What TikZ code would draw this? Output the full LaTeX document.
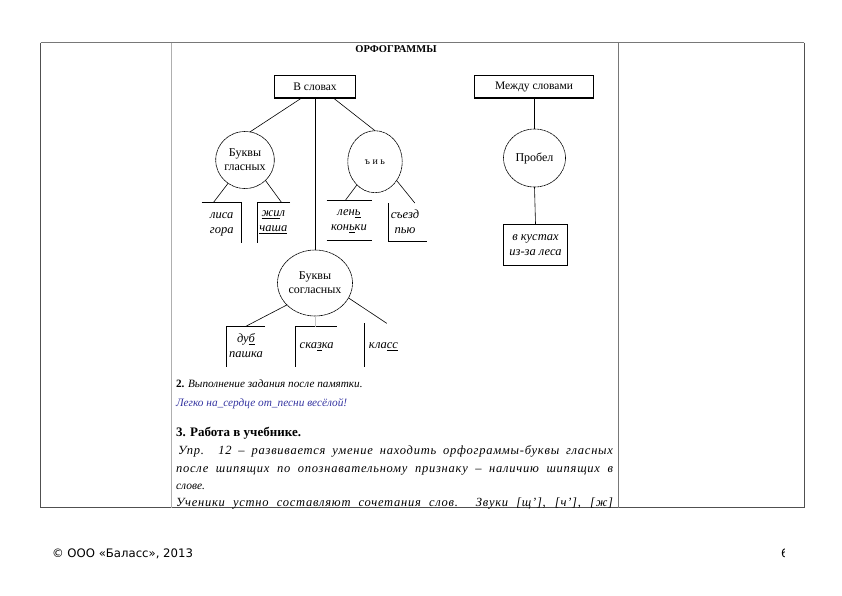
\documentclass[tikz,border=0pt]{standalone}
\usepackage{fontspec}
\setmainfont{Liberation Serif}
\newfontfamily\footfont{DejaVu Sans}
\usetikzlibrary{shapes.geometric,calc}
\definecolor{tabdark}{RGB}{80,80,80}
\definecolor{tabmid}{RGB}{120,120,120}
\definecolor{tablight}{RGB}{175,175,175}
\definecolor{textblue}{RGB}{51,51,160}
\begin{document}
\begin{tikzpicture}[x=1pt,y=-1pt,
  every node/.style={inner sep=0pt,outer sep=0pt},
  topbox/.style={draw,line width=1.3pt,minimum height=22.5pt,font=\fontsize{11.5}{12}\selectfont},
  oval/.style={ellipse,draw,line width=0.6pt,dash pattern=on 3pt off 0.5pt,align=center,font=\fontsize{12}{14}\selectfont},
  link/.style={line width=0.6pt},
  brk/.style={line width=0.8pt},
  word/.style={align=center,font=\fontsize{12.5}{15}\selectfont\itshape},
  bodytext/.style={anchor=base west,font=\fontsize{11.2}{13}\selectfont},
  spaced/.style={anchor=base west,font=\fontsize{12.5}{14}\selectfont\itshape\addfontfeature{LetterSpace=6}}
]
\useasboundingbox (0,0) rectangle (842,595);
% table
\draw[tabmid,line width=0.8pt] (40.5,42.7) -- (804,42.7);
\draw[tabdark,line width=0.8pt] (40.5,42.7) -- (40.5,507.7) -- (804,507.7);
\draw[tabdark,line width=0.8pt] (804,42.7) -- (804,507.7);
\draw[tablight,line width=0.8pt] (171.7,42.7) -- (171.7,507.7);
\draw[tabmid,line width=0.8pt] (618.3,42.7) -- (618.3,507.7);

% title
\node[font=\fontsize{10.5}{12}\selectfont\bfseries] (title) at (396,49) {ОРФОГРАММЫ};

% top boxes
\node[topbox,minimum width=81.4pt] (vslov) at (315,86.7) {В словах};
\node[topbox,minimum width=119pt] (mezh) at (534,86.7) {Между словами};

% ovals
\node[oval,minimum width=57pt,minimum height=57pt] (glas) at (245,160) {Буквы\\гласных};
\node[oval,minimum width=54.4pt,minimum height=62pt,font=\fontsize{10}{12}\selectfont] (myag) at (375,161.7) {ъ и ь};
\node[oval,minimum width=62pt,minimum height=58pt] (prob) at (534.5,158) {Пробел};
\node[oval,minimum width=75pt,minimum height=66pt] (sogl) at (315,283) {Буквы\\согласных};

% Probel box
\node[draw,line width=0.7pt,minimum width=64.3pt,minimum height=41.7pt] (kust) at (535.5,244.8) {};
\node[word] (kustt) at (535.5,244.8) {в кустах\\из-за леса};

% bracket frames
\node[minimum width=40pt,minimum height=40.3pt] (b1) at (221.7,222.8) {};
\node[minimum width=32.7pt,minimum height=40.3pt] (b2) at (273.65,222.8) {};
\node[minimum width=45pt,minimum height=40.7pt] (b3) at (349.2,220.35) {};
\node[minimum width=38.4pt,minimum height=38.7pt] (b4) at (407.5,222.35) {};
\node[minimum width=38.3pt,minimum height=40pt] (c1) at (245.85,346.7) {};
\node[minimum width=41pt,minimum height=40pt] (c2) at (316.2,346.7) {};
\node[minimum width=37.4pt,minimum height=43.4pt] (c3) at (383,345) {};

\draw[brk] (b1.north west) -- (b1.north east) -- (b1.south east);
\draw[brk] (b2.north east) -- (b2.north west) -- (b2.south west);
\draw[brk] (b3.north west) -- (b3.north east);
\draw[brk] (b3.south west) -- (b3.south east);
\draw[brk] (b4.north west) -- (b4.south west) -- (b4.south east);
\draw[brk] (c1.north east) -- (c1.north west) -- (c1.south west);
\draw[brk] (c2.north east) -- (c2.north west) -- (c2.south west);
\draw[brk] (c3.north west) -- (c3.south west);

% words
\node[word] (b1t) at (221.7,224.2) {лиса\\гора};
\node[word] (b2t) at (273.3,222.5) {\underline{ж}\underline{и}л\\\underline{ч}\underline{а}\underline{ш}\underline{а}};
\node[word] (b3t) at (349,220.8) {лен\underline{ь}\\кон\underline{ь}ки};
\node[word] (b4t) at (405,221.7) {съезд\\пью};
\node[word] (c1t) at (246,345.8) {ду\underline{б}\\пашка};
\node[word] (c2t) at (316.7,346.7) {ска\underline{з}ка};
\node[word] (c3t) at (383.5,346.7) {кла\underline{сс}};

% connectors
\draw[link] ($(vslov.south)+(-13.3,0)$) -- (glas.80);
\draw[link] (vslov.south) -- (sogl.north);
\draw[link] ($(vslov.south)+(18.3,0)$) -- (myag.north);
\draw[link] (mezh.south -| prob.north) -- (prob.north);
\draw[link] (prob.south) -- (kust.north);
\draw[link] (glas.234) -- ($(b1.north west)!0.29!(b1.north east)$);
\draw[link] (glas.315) -- ($(b2.north west)!0.746!(b2.north east)$);
\draw[link] (myag.232) -- ($(b3.north west)!0.42!(b3.north east)$);
\draw[link] (myag.319) -- ($(b4.north west)!0.69!(b4.north east)$);
\draw[link] (sogl.218) -- ($(c1.north west)!0.48!(c1.north east)$);
\draw[link,gray!45] (sogl.south) -- (sogl.south |- c2.north);
\draw[link] (sogl.336) -- ($(c3.north west)!0.6!(c3.north east)$);

% text block
\node[bodytext] (p2) at (176,387) {\textbf{2.} \textit{Выполнение задания после памятки.}};
\node[bodytext,text=textblue,font=\fontsize{11.3}{13}\selectfont] (p2b) at (176,406) {\textit{Легко на\_сердце от\_песни весёлой!}};
\node[bodytext,font=\fontsize{13}{15}\selectfont\bfseries] (p3) at (176,436) {3. Работа в учебнике.};
\node[spaced] (l1) at (178,454.5) {\makebox[435pt][s]{Упр. 12 – развивается умение находить орфограммы-буквы гласных}};
\node[spaced] (l2) at (176,472) {\makebox[437pt][s]{после шипящих по опознавательному признаку – наличию шипящих в}};
\node[bodytext,font=\fontsize{11.5}{13}\selectfont\itshape] (l3) at (176,489) {слове.};
\node[spaced] (l4) at (176,506) {\makebox[437pt][s]{Ученики устно составляют сочетания слов. Звуки [щ'], [ч'], [ж]}};

% footer
\node[anchor=base west,font=\footfont\fontsize{11.7}{13}\selectfont] (foot) at (52,557) {© ООО «Баласс», 2013};
\begin{scope}
\clip (770,540) rectangle (784.3,565);
\node[anchor=base west,font=\footfont\fontsize{11.5}{13}\selectfont] (pnum) at (781,557) {6};
\end{scope}
\end{tikzpicture}
\end{document}
